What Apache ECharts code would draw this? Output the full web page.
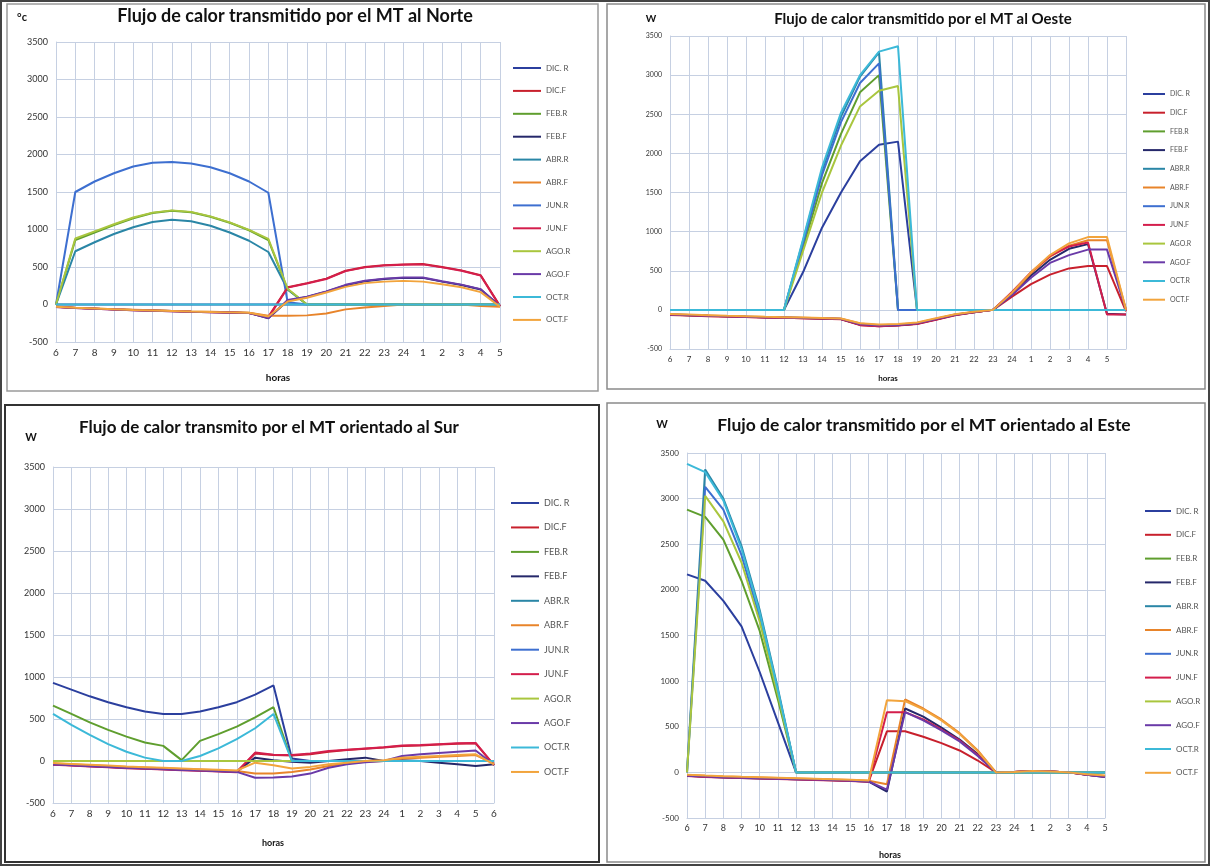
<!DOCTYPE html>
<html><head><meta charset="utf-8">
<script src="https://cdn.jsdelivr.net/npm/echarts@6/dist/echarts.min.js"></script>
<style>html,body{margin:0;padding:0;background:#fff}#c{width:1210px;height:866px}</style>
</head><body><div id="c"></div>
<script>
// ---------- categories ----------
const hoursNorte = ['6','7','8','9','10','11','12','13','14','15','16','17','18','19','20','21','22','23','24','1','2','3','4','5'];
const hoursOeste = ['6','7','8','9','10','11','12','13','14','15','16','17','18','19','20','21','22','23','24','1','2','3','4','5',''];
const hoursSur   = ['6','7','8','9','10','11','12','13','14','15','16','17','18','19','20','21','22','23','24','1','2','3','4','5','6'];
const hoursEste  = ['6','7','8','9','10','11','12','13','14','15','16','17','18','19','20','21','22','23','24','1','2','3','4','5'];
const seriesNames = ['DIC. R','DIC.F','FEB.R','FEB.F','ABR.R','ABR.F','JUN.R','JUN.F','AGO.R','AGO.F','OCT.R','OCT.F'];

// ---------- Norte ----------
const norteDIC_R = [0,0,0,0,0,0,0,0,0,0,0,0,0,0,0,0,0,0,0,0,0,0,0,0];
const norteDIC_F = [-30,-45,-55,-65,-72,-80,-88,-95,-100,-106,-112,-165,230,285,345,450,500,525,535,540,500,455,390,-20];
const norteFEB_R = [0,860,960,1060,1150,1220,1250,1230,1170,1090,990,860,200,0,0,0,0,0,0,0,0,0,0,0];
const norteFEB_F = [-30,-45,-55,-65,-72,-80,-88,-95,-100,-106,-112,-185,50,100,170,255,310,340,355,355,305,260,200,-20];
const norteABR_R = [0,710,830,940,1030,1100,1130,1110,1050,960,850,700,200,0,0,0,0,0,0,0,0,0,0,0];
const norteABR_F = [-28,-42,-52,-62,-70,-78,-85,-92,-98,-104,-110,-150,-150,-145,-120,-65,-40,-20,0,5,5,0,-20,-30];
const norteJUN_R = [0,1500,1640,1750,1840,1890,1900,1880,1830,1750,1640,1490,30,0,0,0,0,0,0,0,0,0,0,0];
const norteJUN_F = [-35,-48,-58,-68,-76,-83,-90,-97,-102,-108,-115,-175,225,280,340,445,495,520,530,535,495,450,385,-25];
const norteAGO_R = [0,880,975,1070,1160,1225,1255,1235,1175,1095,995,875,210,0,0,0,0,0,0,0,0,0,0,0];
const norteAGO_F = [-35,-48,-58,-68,-76,-83,-90,-97,-102,-108,-115,-180,60,105,175,262,318,345,360,360,310,265,205,-25];
const norteOCT_R = [0,0,0,0,0,0,0,0,0,0,0,0,0,0,0,0,0,0,0,0,0,0,0,0];
const norteOCT_F = [-30,-44,-54,-64,-72,-79,-86,-93,-99,-105,-111,-160,40,90,160,235,285,305,315,305,270,230,165,-30];

// ---------- Oeste ----------
const oesteDIC_R = [0,0,0,0,0,0,0,480,1050,1500,1900,2110,2150,0,0,0,0,0,0,0,0,0,0,0,0];
const oesteDIC_F = [-65,-72,-80,-86,-92,-97,-102,-107,-112,-120,-195,-210,-200,-180,-125,-68,-32,0,170,330,450,530,560,560,-20];
const oesteFEB_R = [0,0,0,0,0,0,0,800,1620,2250,2780,3000,0,0,0,0,0,0,0,0,0,0,0,0,0];
const oesteFEB_F = [-60,-68,-76,-83,-89,-94,-99,-104,-109,-116,-188,-205,-196,-176,-120,-64,-30,0,200,440,640,780,840,-50,-60];
const oesteABR_R = [0,0,0,0,0,0,0,880,1780,2470,2980,3290,0,0,0,0,0,0,0,0,0,0,0,0,0];
const oesteABR_F = [-55,-64,-72,-80,-86,-92,-97,-102,-107,-113,-175,-195,-188,-168,-112,-60,-26,0,210,470,680,820,890,890,0];
const oesteJUN_R = [0,0,0,0,0,0,0,850,1720,2400,2900,3150,0,0,0,0,0,0,0,0,0,0,0,0,0];
const oesteJUN_F = [-62,-70,-78,-85,-90,-96,-101,-106,-111,-118,-192,-208,-198,-178,-122,-66,-31,0,230,480,690,810,860,-60,-60];
const oesteAGO_R = [0,0,0,0,0,0,0,750,1500,2100,2600,2800,2860,0,0,0,0,0,0,0,0,0,0,0,0];
const oesteAGO_F = [-58,-66,-74,-81,-87,-93,-98,-103,-108,-115,-185,-200,-192,-172,-116,-62,-28,0,190,410,600,700,770,770,0];
const oesteOCT_R = [0,0,0,0,0,0,0,900,1820,2520,3000,3300,3370,0,0,0,0,0,0,0,0,0,0,0,0];
const oesteOCT_F = [-52,-60,-68,-76,-83,-89,-94,-99,-104,-110,-170,-188,-182,-162,-108,-56,-24,0,220,480,700,850,930,930,0];

// ---------- Sur ----------
const surDIC_R = [930,850,770,700,640,590,560,560,590,640,700,790,900,30,0,0,0,0,0,0,0,0,0,0,0];
const surDIC_F = [-40,-50,-60,-70,-80,-88,-96,-104,-112,-120,-128,90,70,65,80,110,130,145,160,180,185,195,205,210,-50];
const surFEB_R = [660,560,460,370,290,220,180,10,240,320,410,520,640,0,0,0,0,0,0,0,0,0,0,0,0];
const surFEB_F = [-38,-48,-58,-68,-78,-86,-94,-102,-110,-118,-126,40,10,-10,-20,0,20,40,0,10,0,-20,-40,-60,-40];
const surABR_R = [0,0,0,0,0,0,0,0,0,0,0,0,0,0,0,0,0,0,0,0,0,0,0,0,0];
const surABR_F = [-30,-40,-50,-60,-70,-78,-86,-94,-102,-110,-118,-150,-150,-130,-100,-60,-30,-10,0,30,40,50,60,70,-30];
const surJUN_R = [0,0,0,0,0,0,0,0,0,0,0,0,0,0,0,0,0,0,0,0,0,0,0,0,0];
const surJUN_F = [-45,-55,-65,-75,-85,-93,-101,-109,-117,-125,-133,100,75,70,90,120,135,150,165,185,190,200,210,215,-50];
const surAGO_R = [0,0,0,0,0,0,0,0,0,0,0,0,0,0,0,0,0,0,0,0,0,0,0,0,0];
const surAGO_F = [-42,-52,-62,-72,-82,-90,-98,-106,-114,-122,-130,-200,-195,-185,-150,-80,-40,-15,0,60,80,95,110,125,-45];
const surOCT_R = [560,430,310,200,110,40,0,0,60,150,260,390,560,0,0,0,0,0,0,0,0,0,0,0,0];
const surOCT_F = [-25,-35,-45,-55,-65,-73,-81,-89,-97,-105,-113,-20,-50,-90,-70,-40,-20,0,10,40,50,60,70,80,-40];

// ---------- Este ----------
const esteDIC_R = [2170,2100,1880,1600,1100,550,0,0,0,0,0,0,0,0,0,0,0,0,0,0,0,0,0,0];
const esteDIC_F = [-35,-45,-52,-58,-63,-68,-73,-78,-83,-90,-98,450,450,390,320,240,130,0,5,15,10,0,-25,-45];
const esteFEB_R = [2880,2800,2550,2100,1550,800,0,0,0,0,0,0,0,0,0,0,0,0,0,0,0,0,0,0];
const esteFEB_F = [-38,-48,-55,-61,-66,-71,-76,-81,-86,-93,-102,-210,700,610,490,360,200,0,5,15,10,0,-25,-50];
const esteABR_R = [0,3320,3000,2480,1780,920,0,0,0,0,0,0,0,0,0,0,0,0,0,0,0,0,0,0];
const esteABR_F = [-28,-38,-46,-52,-57,-62,-67,-72,-77,-84,-92,-130,800,700,580,430,240,0,5,15,10,0,-20,-40];
const esteJUN_R = [0,3130,2880,2380,1700,880,0,0,0,0,0,0,0,0,0,0,0,0,0,0,0,0,0,0];
const esteJUN_F = [-40,-50,-57,-63,-68,-73,-78,-83,-88,-95,-104,660,660,580,470,350,190,0,5,15,10,0,-25,-45];
const esteAGO_R = [0,3030,2750,2300,1650,850,0,0,0,0,0,0,0,0,0,0,0,0,0,0,0,0,0,0];
const esteAGO_F = [-36,-46,-53,-59,-64,-69,-74,-79,-84,-91,-100,-190,660,570,460,340,180,0,5,15,10,0,-25,-50];
const esteOCT_R = [3380,3290,2980,2450,1750,900,0,0,0,0,0,0,0,0,0,0,0,0,0,0,0,0,0,0];
const esteOCT_F = [-25,-35,-43,-49,-54,-59,-64,-69,-74,-81,-90,790,780,690,570,420,230,0,5,15,10,0,-20,-35];

// ---------- styles ----------
const seriesColors = ['#2b3f9e','#c8202c','#5f9e2e','#25286a','#2a86a6','#e8842a','#3d6fd0','#d41e4c','#a9c63e','#6a3aa8','#3cb9d8','#f2a43c'];
const FONT = 'Lato, "Liberation Sans", sans-serif';

const panels = [
  { cats: hoursNorte, data: [norteDIC_R,norteDIC_F,norteFEB_R,norteFEB_F,norteABR_R,norteABR_F,norteJUN_R,norteJUN_F,norteAGO_R,norteAGO_F,norteOCT_R,norteOCT_F],
    grid: {left:56, top:42, width:444, height:300}, yfs:9, xfs:10,
    legend: {left:513, top:62, gap:10.9, w:28, fs:8} },
  { cats: hoursOeste, data: [oesteDIC_R,oesteDIC_F,oesteFEB_R,oesteFEB_F,oesteABR_R,oesteABR_F,oesteJUN_R,oesteJUN_F,oesteAGO_R,oesteAGO_F,oesteOCT_R,oesteOCT_F],
    grid: {left:670, top:36, width:456, height:313}, yfs:7, xfs:8,
    legend: {left:1143, top:88, gap:6.7, w:22, fs:7} },
  { cats: hoursSur, data: [surDIC_R,surDIC_F,surFEB_R,surFEB_F,surABR_R,surABR_F,surJUN_R,surJUN_F,surAGO_R,surAGO_F,surOCT_R,surOCT_F],
    grid: {left:53, top:467, width:441, height:336}, yfs:9, xfs:10,
    legend: {left:511, top:497, gap:12.45, w:28, fs:9} },
  { cats: hoursEste, data: [esteDIC_R,esteDIC_F,esteFEB_R,esteFEB_F,esteABR_R,esteABR_F,esteJUN_R,esteJUN_F,esteAGO_R,esteAGO_F,esteOCT_R,esteOCT_F],
    grid: {left:687, top:453, width:418, height:365}, yfs:8, xfs:9,
    legend: {left:1145, top:505, gap:11.8, w:26, fs:8} }
];

const gridCol = '#c6d0e2';
const option = {
  animation: false,
  backgroundColor: '#ffffff',
  textStyle: {fontFamily: FONT},
  grid: panels.map(p => p.grid),
  xAxis: panels.map((p, i) => ({
    type: 'category', gridIndex: i, data: p.cats, boundaryGap: false,
    axisLine: {show: true, onZero: false, lineStyle: {color: gridCol}},
    axisTick: {show: false},
    axisLabel: {interval: 0, fontSize: p.xfs, color: '#333', margin: 6, fontFamily: FONT},
    splitLine: {show: true, lineStyle: {color: gridCol, width: 1}}
  })),
  yAxis: panels.map((p, i) => ({
    type: 'value', gridIndex: i, min: -500, max: 3500, interval: 500,
    axisLine: {show: true, lineStyle: {color: gridCol}},
    axisTick: {show: false},
    axisLabel: {fontSize: p.yfs, color: '#333', margin: 8, fontFamily: FONT, formatter: v => String(v)},
    splitLine: {show: true, lineStyle: {color: gridCol, width: 1}}
  })),
  legend: panels.map(p => ({
    orient: 'vertical', left: p.legend.left, top: p.legend.top, padding: 0,
    itemGap: p.legend.gap, itemWidth: p.legend.w, itemHeight: 2, icon: 'rect',
    textStyle: {fontSize: p.legend.fs, color: '#555', lineHeight: 12, fontFamily: FONT},
    data: seriesNames
  })),
  series: []
};
panels.forEach((p, gi) => {
  p.data.forEach((arr, si) => {
    option.series.push({
      type: 'line', name: seriesNames[si], xAxisIndex: gi, yAxisIndex: gi,
      data: arr, symbol: 'none', smooth: false,
      lineStyle: {width: 2, color: seriesColors[si]}, itemStyle: {color: seriesColors[si]}
    });
  });
});

function txt(x, y, text, size, bold, align) {
  return {type: 'text', x: x, y: y, silent: true, style: {
    text: text, fill: '#111', font: (bold ? 'bold ' : '') + size + 'px ' + FONT,
    textAlign: align || 'center', textVerticalAlign: 'middle'}};
}
option.graphic = [
  {type: 'rect', shape: {x: 7, y: 4, width: 591, height: 387}, style: {fill: 'none', stroke: '#9a9a9a', lineWidth: 1.5}, silent: true},
  {type: 'rect', shape: {x: 607, y: 4, width: 598, height: 385}, style: {fill: 'none', stroke: '#8a8a8a', lineWidth: 1.5}, silent: true},
  {type: 'rect', shape: {x: 5, y: 405, width: 594, height: 457}, style: {fill: 'none', stroke: '#333', lineWidth: 2}, silent: true},
  {type: 'rect', shape: {x: 607, y: 403, width: 598, height: 459}, style: {fill: 'none', stroke: '#8a8a8a', lineWidth: 1.5}, silent: true},
  {type: 'rect', shape: {x: 1, y: 1, width: 1208, height: 864}, style: {fill: 'none', stroke: '#444', lineWidth: 2}, silent: true},
  txt(295, 16, 'Flujo de calor transmitido por el MT al Norte', 18, true),
  txt(923, 19, 'Flujo de calor transmitido por el MT al Oeste', 15, true),
  txt(269, 428, 'Flujo de calor transmito por el MT orientado al Sur', 17, true),
  txt(924, 425, 'Flujo de calor transmitido por el MT orientado al Este', 17.5, true),
  txt(22, 17, '°c', 11, true),
  txt(651, 19, 'W', 10, true),
  txt(31, 437, 'W', 11, true),
  txt(662, 424, 'W', 11, true),
  txt(278, 378, 'horas', 10, true),
  txt(888, 378, 'horas', 8, true),
  txt(273, 843, 'horas', 9, true),
  txt(890, 855, 'horas', 9, true)
];

const chart = echarts.init(document.getElementById('c'), null, {renderer: 'canvas'});
chart.setOption(option);
</script></body></html>
